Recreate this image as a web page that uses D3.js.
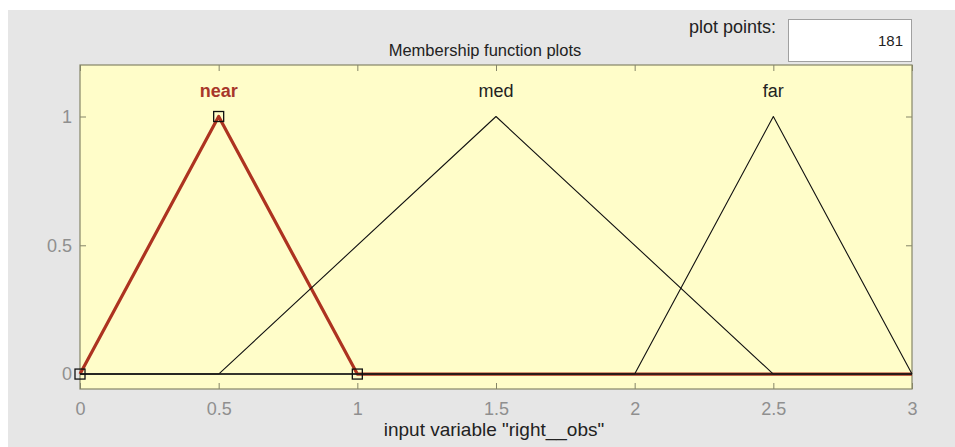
<!DOCTYPE html>
<html>
<head>
<meta charset="utf-8">
<script src="https://cdn.jsdelivr.net/npm/d3@7"></script>
<style>
  html, body { margin: 0; padding: 0; background: #ffffff; }
  svg { display: block; }
  text { font-family: "Liberation Sans", Arial, sans-serif; }
</style>
</head>
<body>
<svg id="chart" width="955" height="447"></svg>
<script>
// Input variable range and its membership functions (triangular: a, peak b, c)
const inputRange = [0, 3];
const mfNames = ["near", "med", "far"];
const mfParams = [
  [0, 0.5, 1],
  [0.5, 1.5, 2.5],
  [2, 2.5, 3]
];
const selectedMf = "near";
const xTicks = [0, 0.5, 1, 1.5, 2, 2.5, 3];
const yTicks = [0, 0.5, 1];
const plotPoints = 181;
const variableName = "right__obs";

const svg = d3.select("#chart");
const W = 955, H = 447;

// window background
svg.append("rect").attr("width", W).attr("height", H).attr("fill", "#ffffff");
svg.append("rect").attr("x", 8).attr("y", 10).attr("width", W - 8).attr("height", H - 10).attr("fill", "#e6e6e6");

const plot = { left: 80, right: 912, top: 65, bottom: 389 };
const x = d3.scaleLinear().domain(inputRange).range([plot.left, plot.right]);
const y = d3.scaleLinear().domain([-0.058, 1.2]).range([plot.bottom, plot.top]);

// axes background
svg.append("rect")
  .attr("x", plot.left).attr("y", plot.top)
  .attr("width", plot.right - plot.left).attr("height", plot.bottom - plot.top)
  .attr("fill", "#fffdc9");

const axisColor = "#858568";
const tickColor = "#8f8f8f";
const tickLen = 6;

function styleAxis(g) {
  g.select(".domain").remove();
  g.selectAll(".tick line").attr("stroke", axisColor).attr("stroke-width", 1);
}

// bottom / top x ticks (inward)
svg.append("g").attr("transform", `translate(0,${plot.bottom})`)
  .call(d3.axisBottom(x).tickValues(xTicks).tickSizeInner(-tickLen).tickSizeOuter(0)
        .tickPadding(13).tickFormat(d3.format("")))
  .call(styleAxis)
  .call(g => g.selectAll(".tick text").attr("fill", tickColor).attr("font-size", 18));
svg.append("g").attr("transform", `translate(0,${plot.top})`)
  .call(d3.axisTop(x).tickValues(xTicks).tickSizeInner(-tickLen).tickSizeOuter(0).tickFormat(""))
  .call(styleAxis);

// left / right y ticks (inward)
svg.append("g").attr("transform", `translate(${plot.left},0)`)
  .call(d3.axisLeft(y).tickValues(yTicks).tickSizeInner(-tickLen).tickSizeOuter(0)
        .tickPadding(8).tickFormat(d3.format("")))
  .call(styleAxis)
  .call(g => g.selectAll(".tick text").attr("fill", tickColor).attr("font-size", 18));
svg.append("g").attr("transform", `translate(${plot.right},0)`)
  .call(d3.axisRight(y).tickValues(yTicks).tickSizeInner(-tickLen).tickSizeOuter(0).tickFormat(""))
  .call(styleAxis);

// axes box
svg.append("rect")
  .attr("x", plot.left).attr("y", plot.top)
  .attr("width", plot.right - plot.left).attr("height", plot.bottom - plot.top)
  .attr("fill", "none").attr("stroke", axisColor).attr("stroke-width", 1.2);

// each membership function drawn over the whole input range
const line = d3.line().x(d => x(d[0])).y(d => y(d[1]));
function mfPoints(p) {
  return [[inputRange[0], 0], [p[0], 0], [p[1], 1], [p[2], 0], [inputRange[1], 0]];
}

// selected function first so the others sit on top of it
const order = mfNames.map((n, i) => i)
  .sort((a, b) => (mfNames[a] === selectedMf ? -1 : 0) - (mfNames[b] === selectedMf ? -1 : 0));

order.forEach(i => {
  const sel = mfNames[i] === selectedMf;
  svg.append("path")
    .attr("d", line(mfPoints(mfParams[i])))
    .attr("fill", "none")
    .attr("stroke", sel ? "#ad3320" : "#111111")
    .attr("stroke-width", sel ? 3.2 : 1.1)
    .attr("stroke-linejoin", "round");
});

// zero baseline through all functions
svg.append("path")
  .attr("d", line([[inputRange[0], 0], [inputRange[1], 0]]))
  .attr("stroke", "#1a1a1a").attr("stroke-width", 1.6);

// handles on the selected function's vertices
const selIdx = mfNames.indexOf(selectedMf);
svg.append("g").selectAll("rect")
  .data(mfParams[selIdx].map((v, k) => [v, k === 1 ? 1 : 0]))
  .join("rect")
  .attr("x", d => x(d[0]) - 5).attr("y", d => y(d[1]) - 5)
  .attr("width", 10).attr("height", 10)
  .attr("fill", "none").attr("stroke", "#111").attr("stroke-width", 1.3);

// function names above the peaks
svg.append("g").selectAll("text")
  .data(mfNames.map((n, i) => ({ n, b: mfParams[i][1] })))
  .join("text")
  .attr("x", d => x(d.b)).attr("y", 97)
  .attr("text-anchor", "middle")
  .attr("font-size", 18)
  .attr("font-weight", d => d.n === selectedMf ? "bold" : "normal")
  .attr("fill", d => d.n === selectedMf ? "#a8372a" : "#222")
  .text(d => d.n);

// title and x label
svg.append("text").attr("x", 485).attr("y", 56).attr("text-anchor", "middle")
  .attr("font-size", 16.5).attr("fill", "#222").text("Membership function plots");
svg.append("text").attr("x", 494).attr("y", 436).attr("text-anchor", "middle")
  .attr("font-size", 19).attr("fill", "#222").text(`input variable "${variableName}"`);

// plot points field
svg.append("text").attr("x", 776).attr("y", 33).attr("text-anchor", "end")
  .attr("font-size", 18).attr("fill", "#222").text("plot points:");
svg.append("rect").attr("x", 788.5).attr("y", 19.5).attr("width", 123).attr("height", 42)
  .attr("fill", "#ffffff").attr("stroke", "#a0a0a0");
svg.append("text").attr("x", 903).attr("y", 46).attr("text-anchor", "end")
  .attr("font-size", 15).attr("fill", "#222").text(plotPoints);
</script>
</body>
</html>
